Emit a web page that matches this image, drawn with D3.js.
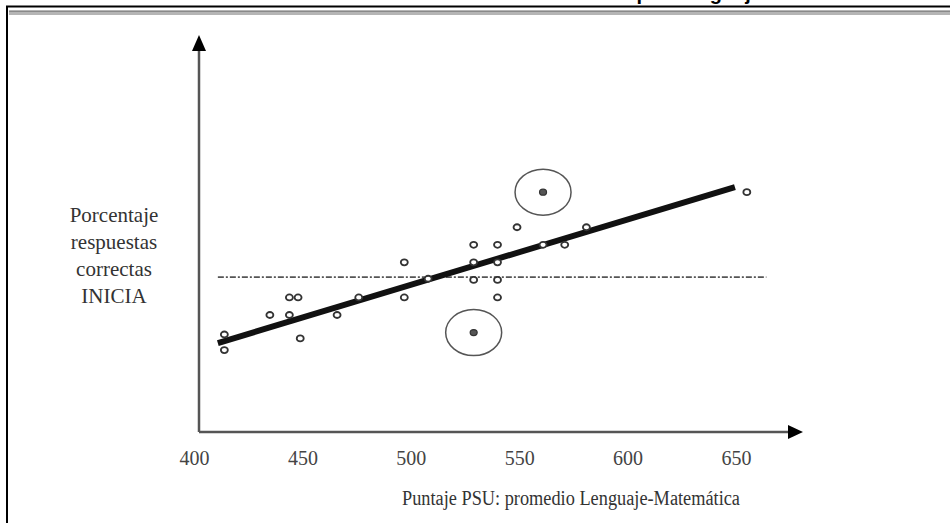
<!DOCTYPE html>
<html><head><meta charset="utf-8">
<script src="https://cdn.jsdelivr.net/npm/d3@7"></script>
<style>html,body{margin:0;padding:0;background:#fff;}svg{display:block;}</style>
</head><body>
<svg id="c" width="950" height="523"></svg>
<script>
// ---- data ----
const titleText = "Resultados INICIA vs. PSU por Lenguaje";
const xTicks = [400, 450, 500, 550, 600, 650];
const psu =    [414, 414, 435, 444, 448, 444, 449, 466, 476, 497, 497, 508, 529, 529, 529, 540, 540, 540, 540, 549, 561, 571, 581, 655];
const inicia = [25, 21, 30, 34.5, 34.5, 30, 24, 30, 34.5, 43.5, 34.5, 39.3, 48, 43.5, 39, 48, 43.5, 39, 34.5, 52.5, 48, 48, 52.5, 61.5];
const outlierPsu = [561, 529];
const outlierInicia = [61.5, 25.5];
const fitPsu = [411, 649.5];
const fitInicia = [22.8, 62.8];
const meanPsu = [411, 664];
const meanInicia = [39.7, 39.7];
const yLabelLines = ["Porcentaje", "respuestas", "correctas", "INICIA"];
const xTitle = "Puntaje PSU: promedio Lenguaje-Matemática";

// ---- layout ----
const svg = d3.select("#c");
const axisX0 = 199, axisY0 = 432;
const x = d3.scaleLinear().domain([400, 650]).range([194, 736]);
const y = d3.scaleLinear().domain([0, 100]).range([432, 42]);
const serif = "'Liberation Serif', 'DejaVu Serif', serif";

// frame
svg.append("text").attr("x", 762).attr("y", 0).attr("text-anchor", "end")
  .attr("font-family", "'Liberation Sans', Arial, sans-serif").attr("font-weight", "bold")
  .attr("font-size", 20).attr("fill", "#000").text(titleText);
svg.append("line").attr("x1", 6).attr("x2", 950).attr("y1", 6.5).attr("y2", 6.5).attr("stroke", "#000").attr("stroke-width", 2);
svg.append("rect").attr("x", 9).attr("y", 10).attr("width", 941).attr("height", 5).attr("fill", "#b5b5b5");
svg.append("line").attr("x1", 9).attr("x2", 950).attr("y1", 11.5).attr("y2", 11.5).attr("stroke", "#8a8a8a").attr("stroke-width", 1);
svg.append("line").attr("x1", 7).attr("x2", 7).attr("y1", 6).attr("y2", 523).attr("stroke", "#000").attr("stroke-width", 2);

// axes
svg.append("line").attr("x1", axisX0).attr("x2", axisX0).attr("y1", 48).attr("y2", axisY0)
  .attr("stroke", "#555").attr("stroke-width", 2.5);
svg.append("line").attr("x1", axisX0).attr("x2", 792).attr("y1", axisY0).attr("y2", axisY0)
  .attr("stroke", "#555").attr("stroke-width", 2.5);
svg.append("path").attr("d", `M${axisX0},35 L${axisX0 - 7},51 L${axisX0 + 7},51 Z`).attr("fill", "#000");
svg.append("path").attr("d", `M803,${axisY0} L788,${axisY0 - 7} L788,${axisY0 + 7} Z`).attr("fill", "#000");

const xa = svg.append("g").attr("transform", `translate(0,${axisY0})`)
  .call(d3.axisBottom(x).tickValues(xTicks).tickSize(0).tickFormat(d3.format("d")));
xa.select(".domain").remove();
xa.selectAll("text").attr("y", 33).attr("dy", 0).attr("font-family", serif)
  .attr("font-size", 20).attr("fill", "#444");

// mean (dash-dot) line
svg.append("line")
  .attr("x1", x(meanPsu[0])).attr("x2", x(meanPsu[1]))
  .attr("y1", y(meanInicia[0])).attr("y2", y(meanInicia[1]))
  .attr("stroke", "#555").attr("stroke-width", 1.8).attr("stroke-dasharray", "6,2,2,2");

// regression line
svg.append("line")
  .attr("x1", x(fitPsu[0])).attr("x2", x(fitPsu[1]))
  .attr("y1", y(fitInicia[0])).attr("y2", y(fitInicia[1]))
  .attr("stroke", "#111").attr("stroke-width", 6);

// points
const pts = psu.map((p, i) => ({p, v: inicia[i]}));
svg.append("g").selectAll("ellipse").data(pts).join("ellipse")
  .attr("cx", d => x(d.p)).attr("cy", d => y(d.v)).attr("rx", 3.5).attr("ry", 3)
  .attr("fill", "#fff").attr("stroke", "#333").attr("stroke-width", 1.8);

// outliers
const outs = outlierPsu.map((p, i) => ({p, v: outlierInicia[i]}));
const og = svg.append("g");
og.selectAll("ellipse.ring").data(outs).join("ellipse").attr("class", "ring")
  .attr("cx", d => x(d.p)).attr("cy", d => y(d.v)).attr("rx", 28).attr("ry", 23)
  .attr("fill", "none").attr("stroke", "#555").attr("stroke-width", 1.5);
og.selectAll("ellipse.pt").data(outs).join("ellipse").attr("class", "pt")
  .attr("cx", d => x(d.p)).attr("cy", d => y(d.v)).attr("rx", 3.5).attr("ry", 3)
  .attr("fill", "#555").attr("stroke", "#333").attr("stroke-width", 1.2);

// y label
svg.append("g").selectAll("text").data(yLabelLines).join("text")
  .attr("x", 114).attr("y", (d, i) => 222 + i * 27).attr("text-anchor", "middle")
  .attr("font-family", serif).attr("font-size", 21).attr("fill", "#333").text(d => d);

// x title
svg.append("text").attr("x", 571).attr("y", 505).attr("text-anchor", "middle")
  .attr("font-family", serif).attr("font-size", 20).attr("fill", "#333")
  .attr("textLength", 338).attr("lengthAdjust", "spacingAndGlyphs").text(xTitle);
</script>
</body></html>
